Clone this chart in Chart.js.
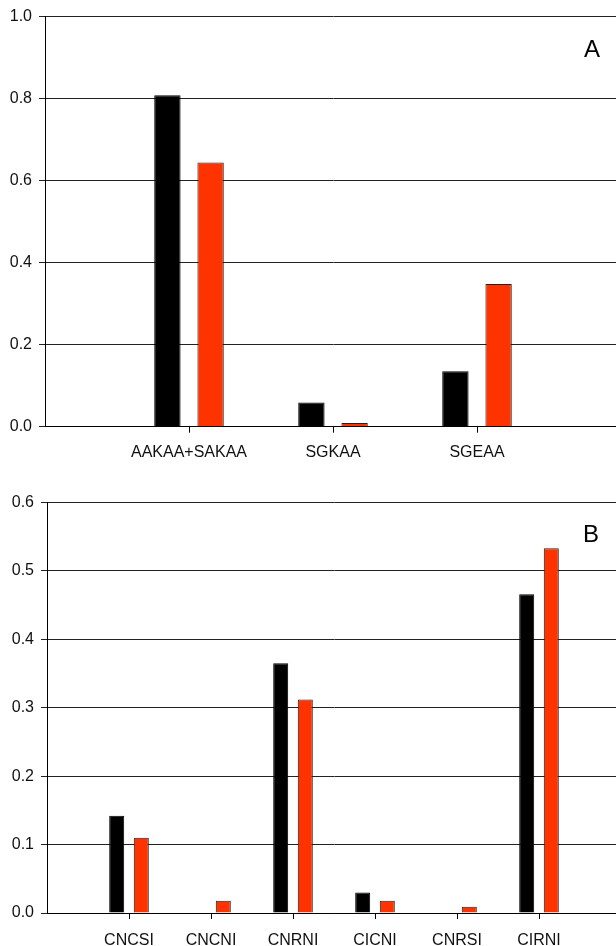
<!DOCTYPE html>
<html>
<head>
<meta charset="utf-8">
<script src="https://cdn.jsdelivr.net/npm/chart.js@4"></script>
<style>
  html, body { margin: 0; padding: 0; background: #fff; overflow: hidden; }
  body { width: 616px; height: 946px; position: relative; }
  canvas { position: absolute; left: 0; }
  #chartA { top: 0; }
  #chartB { top: 480px; }
  .tag { position: absolute; font: 24px "Liberation Sans", Arial, sans-serif; line-height: 24px; color: #000; }
</style>
</head>
<body>
<canvas id="chartA" width="621" height="470"></canvas>
<canvas id="chartB" width="621" height="466"></canvas>
<div class="tag" style="left:584px; top:37px;">A</div>
<div class="tag" style="left:583px; top:522px;">B</div>
<script>
// panel A
var catsA = ['AAKAA+SAKAA', 'SGKAA', 'SGEAA'];
var blackA = [0.808, 0.059, 0.135];
var redA = [0.644, 0.009, 0.348];
// panel B
var catsB = ['CNCSI', 'CNCNI', 'CNRNI', 'CICNI', 'CNRSI', 'CIRNI'];
var blackB = [0.142, 0, 0.365, 0.030, 0, 0.466];
var redB = [0.110, 0.018, 0.312, 0.018, 0.009, 0.533];

var FONT = '"Liberation Sans", Arial, sans-serif';
var RED = '#ff3300';

function pts(vals) {
  return vals.map(function (v, i) { return { x: i + 1, y: v }; });
}

function makeChart(id, cats, black, red, yMax, yStep, axisW, top, xH, labPad) {
  var ctx = document.getElementById(id).getContext('2d');
  return new Chart(ctx, {
    type: 'bar',
    data: {
      datasets: [{
        data: pts(black),
        backgroundColor: '#000',
        borderColor: '#000',
        borderWidth: 1,
        categoryPercentage: 0.6,
        barPercentage: 0.61
      }, {
        data: pts(red),
        backgroundColor: RED,
        borderColor: '#222',
        borderWidth: 1,
        categoryPercentage: 0.6,
        barPercentage: 0.61
      }]
    },
    options: {
      responsive: false,
      animation: false,
      layout: { padding: { top: top, right: 0, left: 0, bottom: 0 } },
      plugins: { legend: { display: false }, tooltip: { enabled: false } },
      scales: {
        x: {
          type: 'linear',
          min: 0,
          max: cats.length + 1,
          offset: false,
          afterBuildTicks: function (s) {
            s.ticks = cats.map(function (c, i) { return { value: i + 1 }; });
          },
          afterFit: function (s) { s.height = xH; },
          grid: { drawOnChartArea: false, offset: false, drawTicks: true, tickLength: 6, color: '#000' },
          border: { color: '#000', width: 1 },
          ticks: {
            autoSkip: false,
            maxRotation: 0,
            padding: labPad,
            color: '#111',
            font: { family: FONT, size: 16 },
            callback: function (v) { return cats[v - 1] || ''; }
          }
        },
        y: {
          min: 0,
          max: yMax,
          afterFit: function (s) { s.width = axisW; },
          grid: { color: '#222', lineWidth: 1, tickLength: 6 },
          border: { color: '#000', width: 1 },
          ticks: {
            stepSize: yStep,
            padding: 7,
            color: '#111',
            font: { family: FONT, size: 16 },
            callback: function (v) { return v.toFixed(1); }
          }
        }
      }
    }
  });
}

makeChart('chartA', catsA, blackA, redA, 1.0, 0.2, 45, 15, 43.3, 10);
makeChart('chartB', catsB, blackB, redB, 0.6, 0.1, 47, 22.5, 33, 12);
</script>
</body>
</html>
